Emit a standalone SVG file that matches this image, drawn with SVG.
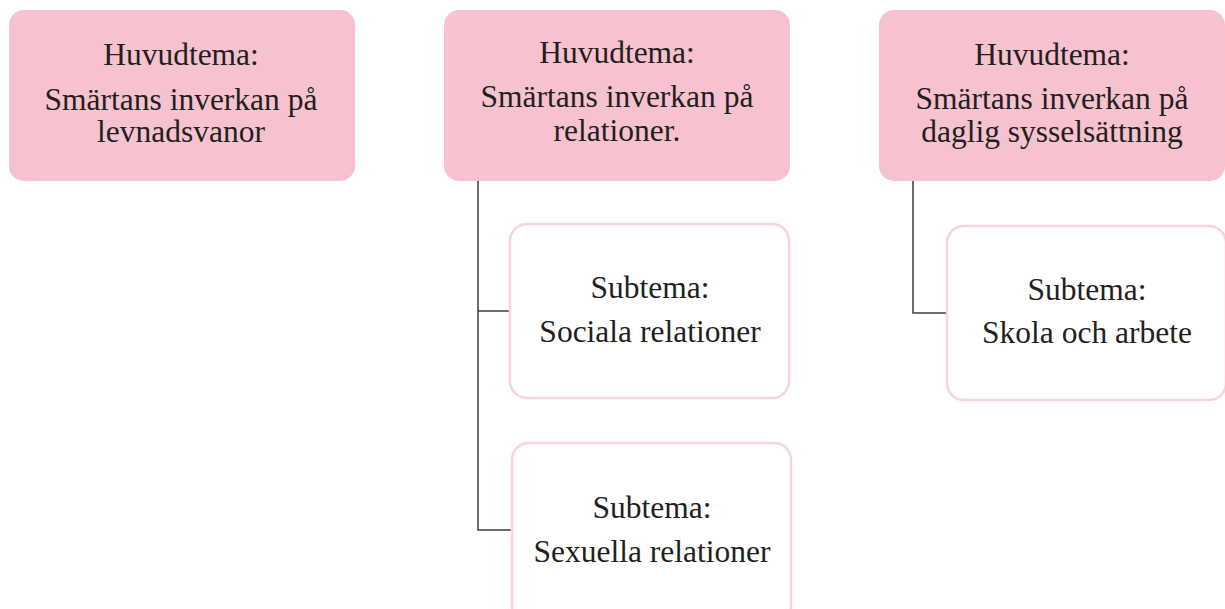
<svg xmlns="http://www.w3.org/2000/svg" width="1225" height="609" viewBox="0 0 1225 609">
<style>
.main{fill:#f7c2cf;}
.sub{fill:#ffffff;stroke:#f9d3de;stroke-width:2.5;}
text{font-family:"Liberation Serif","Times New Roman",serif;font-size:31.5px;fill:#231f20;text-anchor:middle;}
.conn{fill:none;stroke:#3f3f3f;stroke-width:1.5;}
</style>
<g id="connectors">
<path class="conn" d="M478,181 V530 H512 M478,311 H510"/>
<path class="conn" d="M913,181 V313 H947"/>
</g>
<g id="main1">
<rect class="main" x="9" y="10" width="346" height="171" rx="15"/>
<text x="181" y="65">Huvudtema:</text>
<text x="181" y="110">Smärtans inverkan på<tspan x="181" y="142">levnadsvanor</tspan></text>
</g>
<g id="main2">
<rect class="main" x="444" y="10" width="346" height="171" rx="15"/>
<text x="617" y="63">Huvudtema:</text>
<text x="617" y="107">Smärtans inverkan på<tspan x="617" y="141">relationer.</tspan></text>
</g>
<g id="main3">
<rect class="main" x="879" y="10" width="346" height="171" rx="15"/>
<text x="1052" y="65">Huvudtema:</text>
<text x="1052" y="109">Smärtans inverkan på<tspan x="1052" y="142">daglig sysselsättning</tspan></text>
</g>
<g id="sub1">
<rect class="sub" x="510" y="224" width="279" height="174" rx="17"/>
<text x="650" y="298">Subtema:</text>
<text x="650" y="342">Sociala relationer</text>
</g>
<g id="sub2">
<rect class="sub" x="512" y="443" width="279" height="180" rx="17"/>
<text x="652" y="518">Subtema:</text>
<text x="652" y="562">Sexuella relationer</text>
</g>
<g id="sub3">
<rect class="sub" x="947" y="226" width="279" height="174" rx="17"/>
<text x="1087" y="300">Subtema:</text>
<text x="1087" y="343">Skola och arbete</text>
</g>
</svg>
